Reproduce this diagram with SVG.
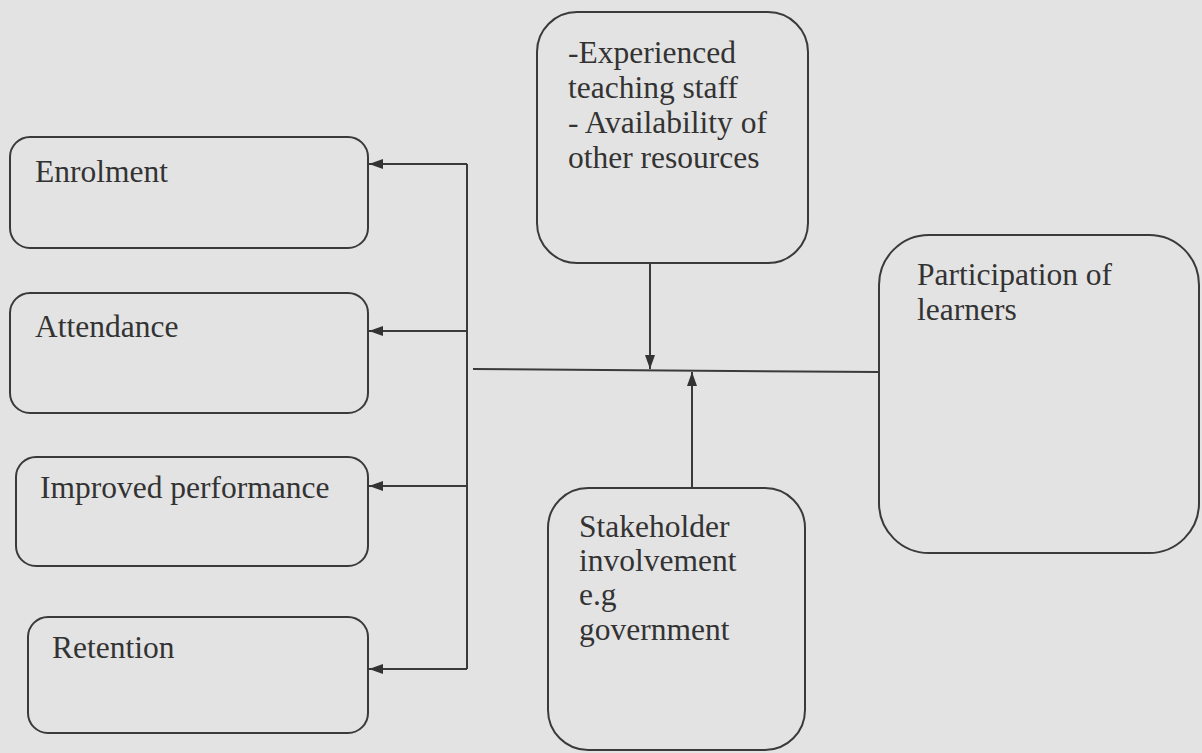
<svg xmlns="http://www.w3.org/2000/svg" width="1202" height="753" viewBox="0 0 1202 753">
<style>
.box{fill:none;stroke:#3a3a3a;stroke-width:2}
.ln{fill:none;stroke:#3a3a3a;stroke-width:2}
.t{font-family:"Liberation Serif","Times New Roman",serif;font-size:31.5px;fill:#333}
</style>
<defs>
<marker id="ah" viewBox="0 0 14 10" refX="14" refY="5" markerWidth="14" markerHeight="10" markerUnits="userSpaceOnUse" orient="auto">
<path d="M0,0 L14,5 L0,10 Z" fill="#333"/>
</marker>
</defs>
<rect width="1202" height="753" fill="#e3e3e3"/>
<g id="connectors">
<path class="ln" d="M467,164 V669"/>
<path class="ln" d="M467,164 H369" marker-end="url(#ah)"/>
<path class="ln" d="M467,331 H369" marker-end="url(#ah)"/>
<path class="ln" d="M467,486 H369" marker-end="url(#ah)"/>
<path class="ln" d="M467,669 H369" marker-end="url(#ah)"/>
<path class="ln" d="M473,369 L879,372"/>
<path class="ln" d="M650,263 V369" marker-end="url(#ah)"/>
<path class="ln" d="M692,488 V372" marker-end="url(#ah)"/>
</g>
<g id="enrolment">
<rect class="box" x="10" y="137" width="358" height="111" rx="20"/>
<text class="t" x="35" y="182">Enrolment</text>
</g>
<g id="attendance">
<rect class="box" x="10" y="293" width="358" height="120" rx="20"/>
<text class="t" x="35" y="337">Attendance</text>
</g>
<g id="improved-performance">
<rect class="box" x="16" y="457" width="352" height="109" rx="20"/>
<text class="t" x="40" y="498">Improved performance</text>
</g>
<g id="retention">
<rect class="box" x="28" y="617" width="340" height="116" rx="20"/>
<text class="t" x="52" y="658">Retention</text>
</g>
<g id="resources">
<rect class="box" x="537" y="12" width="271" height="251" rx="40"/>
<text class="t" x="568" y="63">-Experienced</text>
<text class="t" x="568" y="98">teaching staff</text>
<text class="t" x="568" y="133">- Availability of</text>
<text class="t" x="568" y="168">other resources</text>
</g>
<g id="stakeholder">
<rect class="box" x="548" y="488" width="257" height="262" rx="40"/>
<text class="t" x="579" y="537">Stakeholder</text>
<text class="t" x="579" y="571">involvement</text>
<text class="t" x="579" y="605">e.g</text>
<text class="t" x="579" y="640">government</text>
</g>
<g id="participation">
<rect class="box" x="879" y="235" width="320" height="318" rx="50"/>
<text class="t" x="917" y="285">Participation of</text>
<text class="t" x="917" y="320">learners</text>
</g>
</svg>
